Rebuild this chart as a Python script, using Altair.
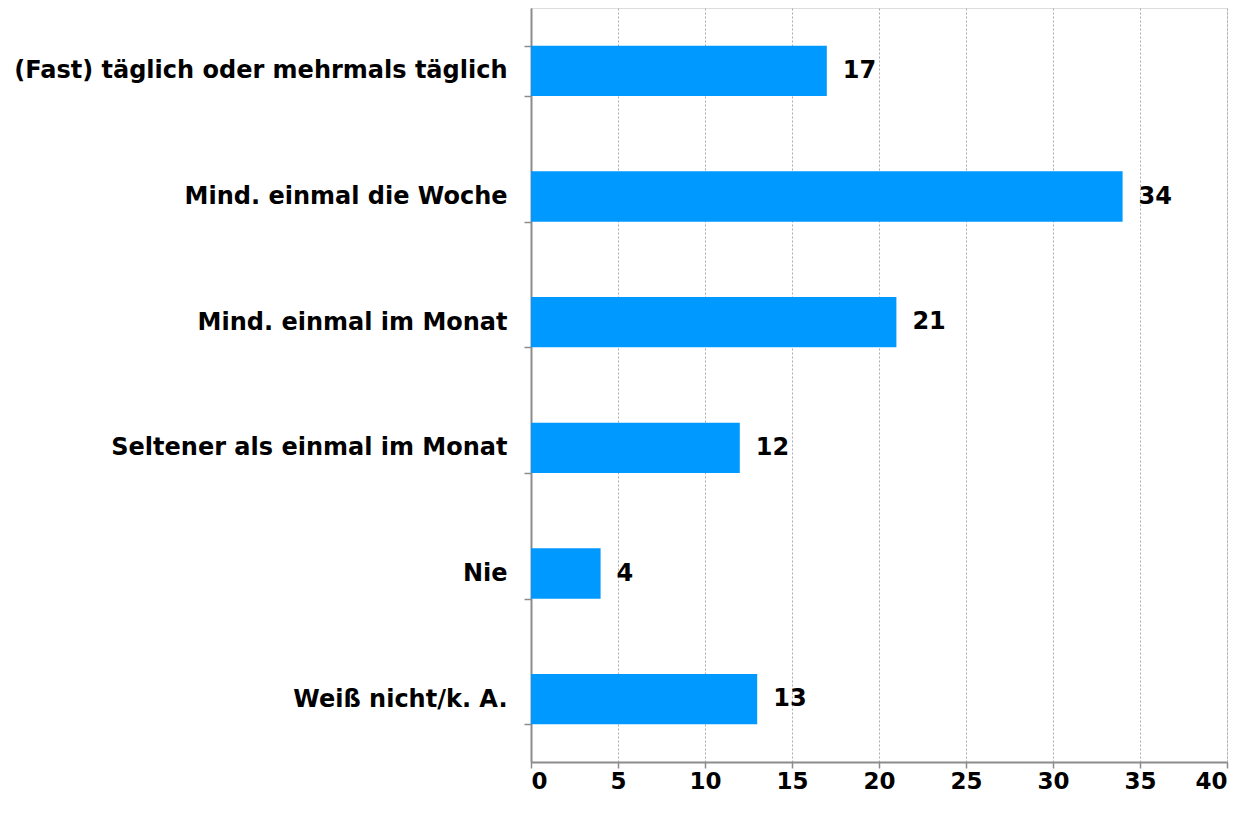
import altair as alt
import pandas as pd

categories = [
    "(Fast) täglich oder mehrmals täglich",
    "Mind. einmal die Woche",
    "Mind. einmal im Monat",
    "Seltener als einmal im Monat",
    "Nie",
    "Weiß nicht/k. A.",
]
values = [17, 34, 21, 12, 4, 13]
x_ticks = [0, 5, 10, 15, 20, 25, 30, 35, 40]

df = pd.DataFrame({"cat": categories, "val": values})

FONT = "DejaVu Sans"
AXIS_COLOR = "#8c8c8c"

y_enc = alt.Y(
    "cat:N",
    sort=categories,
    scale=alt.Scale(paddingInner=0.6, paddingOuter=0.3),
    axis=alt.Axis(
        title=None,
        tickBand="extent",
        tickSize=7,
        tickColor=AXIS_COLOR,
        tickWidth=1.5,
        domainColor=AXIS_COLOR,
        domainWidth=2,
        labelFont=FONT,
        labelFontWeight="bold",
        labelFontSize=24,
        labelColor="black",
        labelPadding=17,
        labelLimit=0,
        grid=False,
    ),
)

x_enc = alt.X(
    "val:Q",
    scale=alt.Scale(domain=[0, 40], nice=False),
    axis=alt.Axis(
        title=None,
        values=x_ticks,
        tickSize=6,
        tickColor=AXIS_COLOR,
        tickWidth=1.5,
        domainColor=AXIS_COLOR,
        domainWidth=2,
        labelFont=FONT,
        labelFontWeight="bold",
        labelFontSize=23,
        labelColor="black",
        labelBaseline="alphabetic",
        labelPadding=20,
        grid=True,
        gridColor="#aaaaaa",
        gridDash=[2, 2],
        gridWidth=1,
    ),
)

bars = alt.Chart(df).mark_bar(color="#0099FF").encode(y=y_enc, x=x_enc)

labels = alt.Chart(df).mark_text(
    align="left", baseline="middle", dx=16, font=FONT, fontWeight="bold",
    fontSize=24, color="black"
).encode(y=alt.Y("cat:N", sort=categories), x=alt.X("val:Q"), text="val:Q")

chart = (
    alt.layer(bars, labels)
    .properties(
        width=696,
        height=754,
        autosize=alt.AutoSizeParams(type="none"),
        padding={"left": 523, "top": 0, "right": 15, "bottom": 38},
    )
    .configure_view(stroke=AXIS_COLOR, strokeWidth=2)
    .configure(background="white")
)

chart.save("out.html", embed_options={"renderer": "svg", "actions": False})
